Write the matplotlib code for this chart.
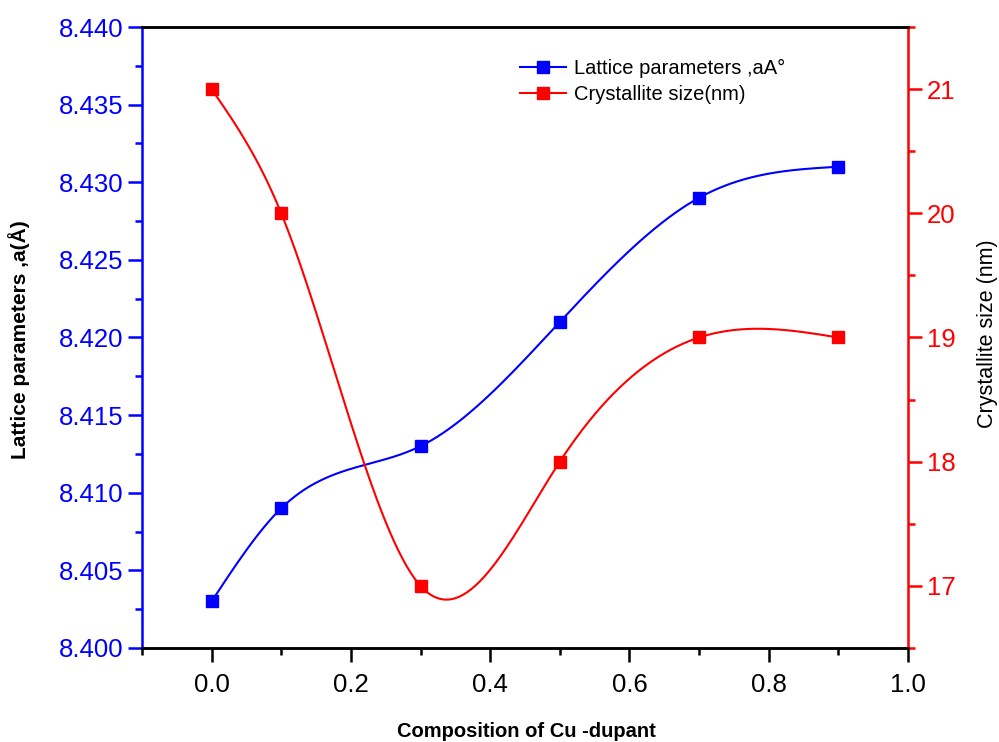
import matplotlib.pyplot as plt
import numpy as np
from matplotlib.ticker import MultipleLocator

plt.rcParams['font.family'] = ['Liberation Sans', 'DejaVu Sans']

composition = [0.0, 0.1, 0.3, 0.5, 0.7, 0.9]
lattice_a = [8.403, 8.409, 8.413, 8.421, 8.429, 8.431]
crystallite_nm = [21, 20, 17, 18, 19, 19]


def natural_spline(x, y, n=300):
    # natural cubic spline through the points, for a smooth line
    x = np.asarray(x, float)
    y = np.asarray(y, float)
    k = len(x)
    h = np.diff(x)
    A = np.zeros((k, k))
    b = np.zeros(k)
    A[0, 0] = 1
    A[-1, -1] = 1
    for i in range(1, k - 1):
        A[i, i - 1] = h[i - 1]
        A[i, i] = 2 * (h[i - 1] + h[i])
        A[i, i + 1] = h[i]
        b[i] = 6 * ((y[i + 1] - y[i]) / h[i] - (y[i] - y[i - 1]) / h[i - 1])
    M = np.linalg.solve(A, b)
    xs = np.linspace(x[0], x[-1], n)
    ys = np.empty_like(xs)
    for j, xv in enumerate(xs):
        i = min(np.searchsorted(x, xv, side='right') - 1, k - 2)
        t1 = x[i + 1] - xv
        t0 = xv - x[i]
        ys[j] = (M[i] * t1 ** 3 + M[i + 1] * t0 ** 3) / (6 * h[i]) \
            + (y[i] / h[i] - M[i] * h[i] / 6) * t1 \
            + (y[i + 1] / h[i] - M[i + 1] * h[i] / 6) * t0
    return xs, ys


fig = plt.figure(figsize=(9.99, 7.42), dpi=100)
ax = fig.add_axes([0.1421, 0.1267, 0.7668, 0.8369])
ax2 = ax.twinx()

xs, ys = natural_spline(composition, lattice_a)
ax.plot(xs, ys, color='blue', lw=1.5)
ax.plot(composition, lattice_a, 's', color='blue', ms=8.5)

xs, ys = natural_spline(composition, crystallite_nm)
ax2.plot(xs, ys, color='red', lw=1.5)
ax2.plot(composition, crystallite_nm, 's', color='red', ms=8.5)

ax.set_xlim(-0.1, 1.0)
ax.set_ylim(8.400, 8.440)
ax2.set_ylim(16.5, 21.5)

ax.xaxis.set_major_locator(MultipleLocator(0.2))
ax.xaxis.set_minor_locator(MultipleLocator(0.1))
ax.yaxis.set_major_locator(MultipleLocator(0.005))
ax.yaxis.set_minor_locator(MultipleLocator(0.0025))
ax2.yaxis.set_major_locator(MultipleLocator(1))
ax2.yaxis.set_minor_locator(MultipleLocator(0.5))
ax.yaxis.set_major_formatter(plt.FormatStrFormatter('%.3f'))
ax.xaxis.set_major_formatter(plt.FormatStrFormatter('%.1f'))

for a in (ax, ax2):
    for s in a.spines.values():
        s.set_linewidth(1.8)
ax.spines['left'].set_color('blue')
ax2.spines['left'].set_visible(False)
ax2.spines['right'].set_color('red')
ax.spines['right'].set_visible(False)

ax.tick_params(axis='x', which='major', length=10, width=1.8, labelsize=18.5, pad=8)
ax.tick_params(axis='x', which='minor', length=5, width=1.8)
ax.tick_params(axis='y', which='major', length=10, width=1.8, colors='blue', labelsize=18.5)
ax.tick_params(axis='y', which='minor', length=5, width=1.8, colors='blue')
ax2.tick_params(axis='y', which='major', length=10, width=1.8, colors='red', labelsize=18.5)
ax2.tick_params(axis='y', which='minor', length=5, width=1.8, colors='red')

# axis titles placed in figure coordinates
fig.text(0.019, 0.542, 'Lattice parameters ,a(Å)', rotation=90, ha='center', va='center',
         fontsize=15, fontweight='bold')
fig.text(0.988, 0.55, 'Crystallite size (nm)', rotation=90, ha='center', va='center',
         fontsize=15.5)
fig.text(0.527, 0.014, 'Composition of Cu -dupant', ha='center', va='center',
         fontsize=14.5, fontweight='bold')

h1, = ax.plot([], [], '-s', color='blue', ms=8.5, lw=1.5, label='Lattice parameters ,aA°')
h2, = ax.plot([], [], '-s', color='red', ms=8.5, lw=1.5, label='Crystallite size(nm)')
ax.legend(handles=[h1, h2], loc='upper left', bbox_to_anchor=(0.47, 0.978), frameon=False,
          fontsize=14.5, handlelength=2.3, handletextpad=0.4, labelspacing=0.36)

fig.savefig('out.png', dpi=100)
